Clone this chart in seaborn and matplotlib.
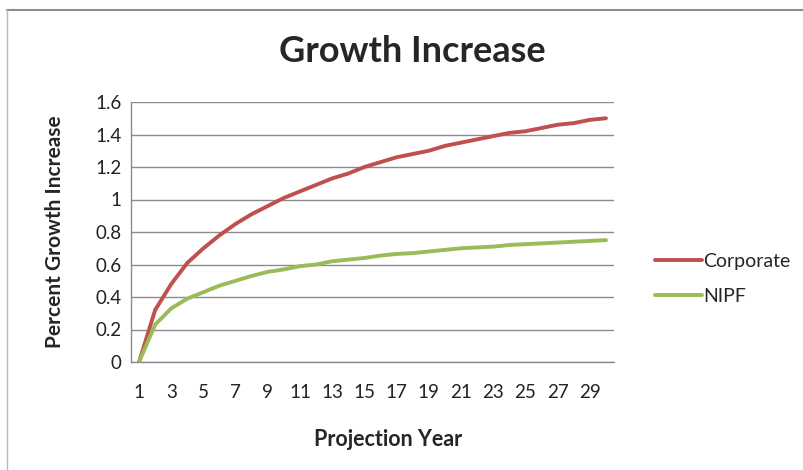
import matplotlib
matplotlib.use("Agg")
import matplotlib.pyplot as plt
import seaborn as sns
import pandas as pd
import numpy as np
from matplotlib.lines import Line2D

years = list(range(1, 31))
corporate = [0.0, 0.32, 0.48, 0.61, 0.70, 0.78, 0.85, 0.91, 0.96, 1.01,
             1.05, 1.09, 1.13, 1.16, 1.20, 1.23, 1.26, 1.28, 1.30, 1.33,
             1.35, 1.37, 1.39, 1.41, 1.42, 1.44, 1.46, 1.47, 1.49, 1.50]
nipf = [0.0, 0.23, 0.33, 0.39, 0.43, 0.47, 0.50, 0.53, 0.555, 0.57,
        0.59, 0.60, 0.62, 0.63, 0.64, 0.655, 0.665, 0.67, 0.68, 0.69,
        0.70, 0.705, 0.71, 0.72, 0.725, 0.73, 0.735, 0.74, 0.745, 0.75]
series_names = ["Corporate", "NIPF"]
colors = ["#C0504D", "#9BBB59"]
yticks = [0, 0.2, 0.4, 0.6, 0.8, 1.0, 1.2, 1.4, 1.6]
ytick_labels = ["0", "0.2", "0.4", "0.6", "0.8", "1", "1.2", "1.4", "1.6"]

df = pd.DataFrame({
    "Year": years * 2,
    "Value": corporate + nipf,
    "Series": [series_names[0]] * len(years) + [series_names[1]] * len(years),
})

sns.set_style("white")
plt.rcParams["font.family"] = ["Lato", "DejaVu Sans"]

fig = plt.figure(figsize=(8.04, 4.70), dpi=100)
ax = fig.add_axes([131 / 804, 1 - 362 / 470, (614 - 131) / 804, (362 - 102) / 470])

sns.lineplot(data=df, x="Year", y="Value", hue="Series", palette=colors,
             linewidth=2.8, ax=ax, legend=False)

ax.set_xlim(0.5, 30.5)
ax.set_ylim(0, 1.6)
ax.set_yticks(yticks)
ax.set_yticklabels(ytick_labels)
ax.yaxis.grid(True, color="#8C8C8C", linewidth=1.0)
ax.set_axisbelow(True)

ax.set_xticks(years[::2])
ax.set_xticklabels([str(y) for y in years[::2]])
ax.set_xticks(np.arange(0.5, 31, 1.0), minor=True)
ax.tick_params(axis="x", which="major", length=0, pad=16, labelsize=13.5, colors="#222222")
ax.tick_params(axis="x", which="minor", length=5, width=1, color="#8C8C8C", direction="out")
ax.tick_params(axis="y", which="major", length=0, pad=7, labelsize=13.5, colors="#222222")

for side in ["top", "right"]:
    ax.spines[side].set_visible(False)
for side in ["left", "bottom"]:
    ax.spines[side].set_color("#8C8C8C")
    ax.spines[side].set_linewidth(1.0)

ax.set_xlabel("Projection Year", fontsize=15.5, fontweight="bold")
ax.set_ylabel("Percent Growth Increase", fontsize=15, fontweight="bold")
ax.xaxis.label.set_va("center")
ax.yaxis.label.set_va("center")
ax.xaxis.set_label_coords((388 - 131) / 483, (362 - 440) / 260)
ax.yaxis.set_label_coords((55 - 131) / 483, (362 - 232) / 260)

fig.text(412 / 804, 1 - 52 / 470, "Growth Increase", ha="center", va="center",
         fontsize=26, fontweight="bold")

handles = [Line2D([0], [0], color=c, linewidth=2.8) for c in colors]
fig.legend(handles, series_names, loc="center left",
           bbox_to_anchor=(655 / 804, 1 - 279 / 470), frameon=False,
           borderpad=0, borderaxespad=0,
           fontsize=14, handlelength=2.4, handletextpad=0.1, labelspacing=0.95)

# chart frame lines (top and left)
fig.add_artist(Line2D([7 / 804, 1], [1 - 10 / 470, 1 - 10 / 470], color="#8C8C8C",
                      linewidth=1.5, transform=fig.transFigure))
fig.add_artist(Line2D([7 / 804, 7 / 804], [0, 1 - 10 / 470], color="#BBBBBB",
                      linewidth=1.0, transform=fig.transFigure))

fig.savefig("out.png", dpi=100)
